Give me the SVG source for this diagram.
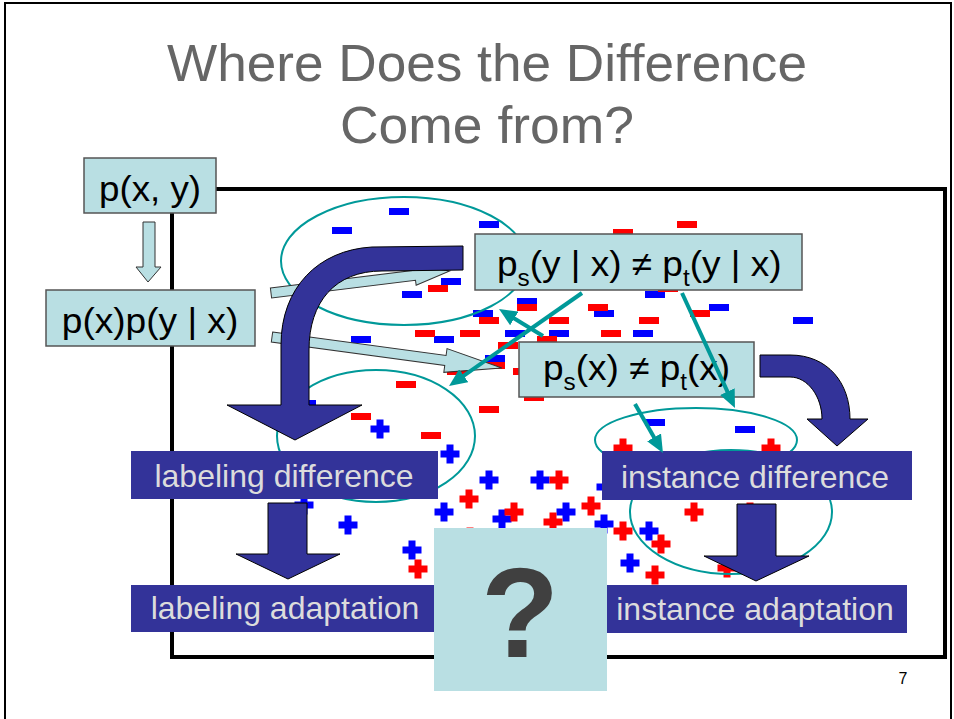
<svg xmlns="http://www.w3.org/2000/svg" xmlns:xlink="http://www.w3.org/1999/xlink" width="954" height="719" viewBox="0 0 954 719">
<style>
.t{font-family:"Liberation Sans",Arial,sans-serif}
.box{fill:#b9dfe3;stroke:#555;stroke-width:1.5}
.lab{fill:#333399}
.labt{font-family:"Liberation Sans",Arial,sans-serif;font-size:32px;fill:#dcdcdc;text-anchor:middle}
.ft{font-family:"Liberation Sans",Arial,sans-serif;font-size:35px;fill:#000}
.ell{fill:none;stroke:#009999;stroke-width:2}
.dark{fill:#333399;stroke:#000;stroke-width:1}
.light{fill:#b9dfe3;stroke:#333;stroke-width:1}
.teal{stroke:#009999;stroke-width:4;fill:none;marker-end:url(#ah)}
.b{fill:#0000ff}.r{fill:#ff0000}
</style>
<defs>
<rect id="mi" width="20" height="7"/>
<path id="pl" d="M-3.5,-9.5h7v6h6v7h-6v6h-7v-6h-6v-7h6z"/>
<marker id="ah" viewBox="0 0 18 16" refX="10" refY="8" markerWidth="18" markerHeight="16" markerUnits="userSpaceOnUse" orient="auto">
<path d="M0,0L18,8L0,16z" fill="#009999"/>
</marker>
</defs>
<rect x="0" y="0" width="954" height="719" fill="#fff"/>
<rect x="5" y="3" width="946" height="740" fill="none" stroke="#000" stroke-width="2"/>
<g id="title" class="t" fill="#666" font-size="52" text-anchor="middle">
<text x="487" y="81" textLength="640" lengthAdjust="spacingAndGlyphs">Where Does the Difference</text>
<text x="487" y="143" textLength="294" lengthAdjust="spacingAndGlyphs">Come from?</text>
</g>
<rect id="frame" x="172" y="189" width="773" height="468" fill="none" stroke="#000" stroke-width="4"/>
<g id="minus">
<use href="#mi" class="b" x="389" y="208"/><use href="#mi" class="b" x="479" y="221"/><use href="#mi" class="b" x="332" y="227"/>
<use href="#mi" class="b" x="441" y="278"/><use href="#mi" class="b" x="402" y="291"/><use href="#mi" class="b" x="517" y="298"/>
<use href="#mi" class="b" x="594" y="310"/><use href="#mi" class="b" x="473" y="310"/><use href="#mi" class="b" x="434" y="336"/>
<use href="#mi" class="b" x="505" y="330"/><use href="#mi" class="b" x="549" y="330"/><use href="#mi" class="b" x="633" y="330"/>
<use href="#mi" class="b" x="351" y="336"/><use href="#mi" class="b" x="485" y="355"/><use href="#mi" class="b" x="645" y="291"/>
<use href="#mi" class="b" x="709" y="304"/><use href="#mi" class="b" x="793" y="317"/><use href="#mi" class="b" x="296" y="400"/>
<use href="#mi" class="b" x="645" y="419"/><use href="#mi" class="b" x="735" y="426"/>
<use href="#mi" class="r" x="428" y="285"/><use href="#mi" class="r" x="517" y="304"/><use href="#mi" class="r" x="588" y="304"/>
<use href="#mi" class="r" x="479" y="317"/><use href="#mi" class="r" x="549" y="317"/><use href="#mi" class="r" x="415" y="330"/>
<use href="#mi" class="r" x="460" y="330"/><use href="#mi" class="r" x="537" y="336"/><use href="#mi" class="r" x="601" y="330"/>
<use href="#mi" class="r" x="498" y="342"/><use href="#mi" class="r" x="485" y="362"/><use href="#mi" class="r" x="447" y="368"/>
<use href="#mi" class="r" x="396" y="381"/><use href="#mi" class="r" x="513" y="368"/><use href="#mi" class="r" x="524" y="394"/>
<use href="#mi" class="r" x="479" y="406"/><use href="#mi" class="r" x="658" y="285"/><use href="#mi" class="r" x="677" y="221"/>
<use href="#mi" class="r" x="613" y="229"/><use href="#mi" class="r" x="639" y="317"/><use href="#mi" class="r" x="690" y="310"/>
<use href="#mi" class="r" x="351" y="413"/><use href="#mi" class="r" x="421" y="432"/>
</g>
<g id="plus">
<use href="#pl" class="b" x="380" y="429"/><use href="#pl" class="b" x="450" y="454"/><use href="#pl" class="b" x="489" y="480"/>
<use href="#pl" class="b" x="540" y="480"/><use href="#pl" class="b" x="444" y="512"/><use href="#pl" class="b" x="502" y="519"/>
<use href="#pl" class="b" x="566" y="512"/><use href="#pl" class="b" x="604" y="524"/><use href="#pl" class="b" x="348" y="525"/>
<use href="#pl" class="b" x="412" y="550"/><use href="#pl" class="b" x="630" y="563"/><use href="#pl" class="b" x="649" y="531"/>
<use href="#pl" class="b" x="304" y="505"/><use href="#pl" class="b" x="606" y="487"/>
<use href="#pl" class="r" x="559" y="480"/><use href="#pl" class="r" x="469" y="499"/><use href="#pl" class="r" x="514" y="512"/>
<use href="#pl" class="r" x="553" y="522"/><use href="#pl" class="r" x="591" y="506"/><use href="#pl" class="r" x="623" y="531"/>
<use href="#pl" class="r" x="418" y="569"/><use href="#pl" class="r" x="470" y="537"/><use href="#pl" class="r" x="661" y="544"/>
<use href="#pl" class="r" x="655" y="575"/><use href="#pl" class="r" x="694" y="512"/><use href="#pl" class="r" x="623" y="448"/>
<use href="#pl" class="r" x="771" y="448"/><use href="#pl" class="r" x="750" y="512"/><use href="#pl" class="r" x="727" y="568"/>
</g>
<g id="ellipses">
<ellipse class="ell" cx="404" cy="261" rx="123" ry="64"/>
<ellipse class="ell" cx="376" cy="436" rx="99" ry="66"/>
<ellipse class="ell" cx="696" cy="440" rx="101" ry="32"/>
<ellipse class="ell" cx="731" cy="512" rx="101" ry="62"/>
</g>
<g id="connectors">
<polygon class="light" transform="translate(271,293) rotate(-7)" points="0,-5 145,-5 145,-10 180,0 145,10 145,5 0,5"/>
<polygon class="light" transform="translate(272,337) rotate(7.7)" points="0,-5 175,-5 175,-12 232,0 175,12 175,5 0,5"/>
<path class="dark" d="M463,246 L372,247 C318,250 281,288 281,345 L281,405 L227,405 L295,440 L362,405 L309,405 L309,350 C309,302 335,271 382,271 L463,270 Z"/>
<path class="dark" d="M760,355 L790,355 C828,355 850,383 850,419 L868,419 L837,446 L807,419 L822,419 C822,397 808,377 790,377 L760,377 Z"/>
<path class="dark" d="M268,503 L307,503 L307,554 L340,554 L288,579 L236,554 L268,554 Z"/>
<path class="dark" d="M737,504 L776,504 L776,556 L809,556 L756,581 L704,556 L737,556 Z"/>
<polygon class="light" points="143,222 155,222 155,267 161,267 148,282 136,267 143,267"/>
</g>
<g id="pxy">
<rect class="box" x="84" y="158" width="132" height="55"/>
<text class="t" transform="translate(150,201) scale(1.05,1)" font-size="35" text-anchor="middle">p(x, y)</text>
</g>
<g id="pxpyx">
<rect class="box" x="46" y="290" width="209" height="56"/>
<text class="t" transform="translate(150,333) scale(1.06,1)" font-size="35" text-anchor="middle">p(x)p(y | x)</text>
</g>
<g id="labdiff">
<rect class="lab" x="131" y="451" width="307" height="48"/>
<text class="labt" x="284" y="487">labeling difference</text>
</g>
<g id="labadapt">
<rect class="lab" x="131" y="585" width="307" height="47"/>
<text class="labt" x="285" y="619">labeling adaptation</text>
</g>
<g id="instdiff">
<rect class="lab" x="602" y="451" width="310" height="49"/>
<text class="labt" x="755" y="488">instance difference</text>
</g>
<g id="instadapt">
<rect class="lab" x="606" y="585" width="301" height="48"/>
<text class="labt" x="755" y="620">instance adaptation</text>
</g>
<g id="pyx">
<rect class="box" x="475" y="234" width="327" height="56"/>
<text class="ft" transform="translate(497,276) scale(1.057,1)">p<tspan font-size="23" dy="10">s</tspan><tspan dy="-10">(y | x) ≠ p</tspan><tspan font-size="23" dy="10">t</tspan><tspan dy="-10">(y | x)</tspan></text>
</g>
<g id="px">
<rect class="box" x="519" y="342" width="235" height="55"/>
<text class="ft" transform="translate(543,380) scale(1.057,1)">p<tspan font-size="23" dy="10">s</tspan><tspan dy="-10">(x) ≠ p</tspan><tspan font-size="23" dy="10">t</tspan><tspan dy="-10">(x)</tspan></text>
</g>
<g id="teal-arrows">
<line class="teal" x1="582" y1="293" x2="455.6" y2="381.4"/>
<line class="teal" x1="543" y1="336" x2="505.8" y2="313.2"/>
<line class="teal" x1="682" y1="293" x2="731.6" y2="400.7"/>
<line class="teal" x1="635" y1="404" x2="659" y2="446.1"/>
</g>
<g id="question">
<rect x="434" y="528" width="173" height="163" fill="#b9dfe3"/>
<text class="t" x="520" y="657" font-size="128" font-weight="bold" fill="#404040" text-anchor="middle">?</text>
</g>
<text class="t" x="903" y="684" font-size="16" text-anchor="middle">7</text>
</svg>
